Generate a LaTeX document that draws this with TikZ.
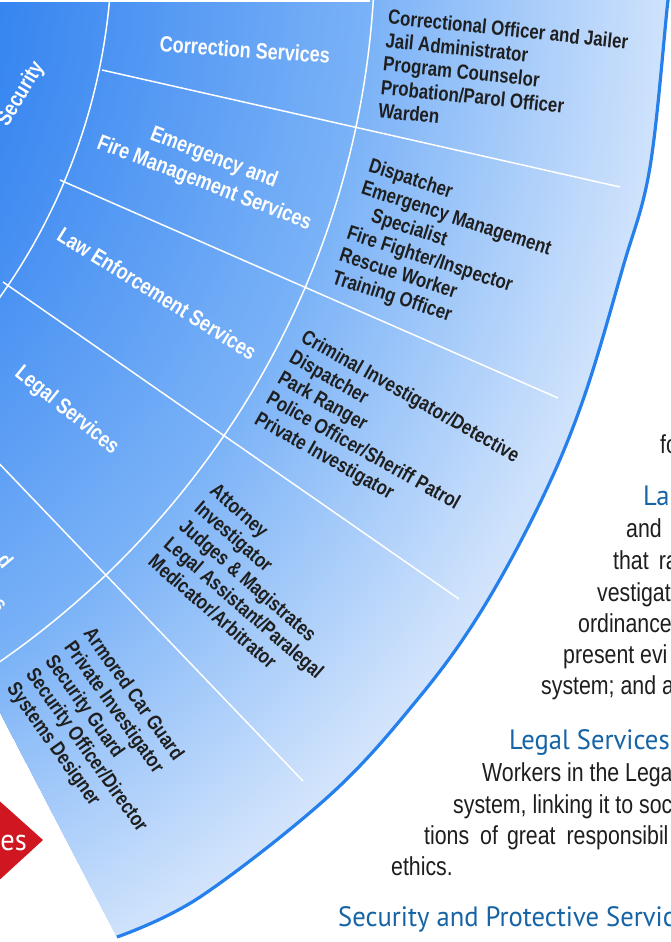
\documentclass[tikz,border=0pt]{standalone}
\usepackage{fontspec}
\setmainfont{Liberation Sans}
\newfontfamily\narrowfont{Liberation Sans}[FakeStretch=0.82]
\newfontfamily\headfont{PT Sans}[FakeStretch=0.95]
\definecolor{ringA}{RGB}{50,130,240}
\definecolor{ringB}{RGB}{122,178,247}
\definecolor{ringC}{RGB}{210,228,252}
\definecolor{arcblue}{RGB}{38,128,235}
\definecolor{headblue}{RGB}{22,100,165}
\definecolor{bodytext}{RGB}{30,30,30}
\definecolor{tagred}{RGB}{208,22,32}
\begin{document}
\begin{tikzpicture}[x=1pt,y=-1pt,
  sector/.style={font=\narrowfont\bfseries\fontsize{22}{27}\selectfont, text=white, inner sep=0pt, align=center},
  jobs/.style={font=\narrowfont\bfseries\fontsize{20.5}{23.5}\selectfont, text=black!88, inner sep=0pt, align=left, anchor=north west},
  body/.style={font=\narrowfont\fontsize{26}{31}\selectfont, text=bodytext, inner sep=0pt, anchor=base west},
  head/.style={font=\headfont\fontsize{28}{32}\selectfont, text=headblue, inner sep=0pt, anchor=base west},
  divider/.style={white, line width=1.5pt},
  outerline/.style={arcblue, line width=3.2pt}]
\useasboundingbox (0,0) rectangle (670,942);
\clip (0,0) rectangle (670,942);
\fill[white] (0,0) rectangle (670,942);
\coordinate (O) at (-497,-55);
% fan with radial gradient
\begin{scope}
  \clip (-20,-20) -- (671,-20) -- plot[smooth, tension=0.6] coordinates {(671,-12) (668,0) (650,167) (623,267) (583,400) (540,503) (480,613) (417,700) (330,795) (200,897) (117,937)} -- (0,712) -- (-20,673) -- cycle;
  \foreach \r in {1200,1195,...,470}{
    \ifdim\r pt>870pt
      \pgfmathsetmacro\p{min(100,max(0,(1180-\r)/310*100))}
      \colorlet{ringtmp}{ringB!\p!ringC}
    \else
      \pgfmathsetmacro\p{min(100,(870-\r)/390*100)}
      \colorlet{ringtmp}{ringA!\p!ringB}
    \fi
    \fill[ringtmp] (O) circle (\r);
  }
  \draw[divider] (O) circle (609);
  \draw[divider] (O) circle (872);
  \coordinate (l1a) at (102,70);  \coordinate (l1b) at (620,187);
  \coordinate (l2a) at (60,180);  \coordinate (l2b) at (558,398);
  \coordinate (l3a) at (3,282);   \coordinate (l3b) at (459,599);
  \coordinate (l4a) at (-76,385); \coordinate (l4b) at (303,781);
  \draw[divider] (l1a) -- (l1b);
  \draw[divider] (l2a) -- (l2b);
  \draw[divider] (l3a) -- (l3b);
  \draw[divider] (l4a) -- (l4b);
\end{scope}
\fill[white] (0,0) rectangle (370,2.5);
\draw[outerline] plot[smooth, tension=0.6] coordinates {(671,-12) (668,0) (650,167) (623,267) (583,400) (540,503) (480,613) (417,700) (330,795) (200,897) (117,937)};
% inner ring labels
\node[sector, rotate=-3.9, anchor=base] (corr) at (244.5,57.5) {Correction Services};
\node[sector, rotate=-21, anchor=center] (emerg) at (209,171) {Emergency and\\Fire Management Services};
\node[sector, rotate=-32, anchor=base] (law) at (153,300) {Law Enforcement Services};
\node[sector, rotate=-39, anchor=base] (legal) at (63,415) {Legal Services};
\node[sector, rotate=59, anchor=base] (secur) at (26,97) {Security};
\node[sector, rotate=-50, anchor=base east] (fragd) at (3,570) {d};
\node[sector, rotate=-50, anchor=base east] (frags) at (-2,613) {s};
% job lists
\node[jobs, rotate=-6] (jobs1) at (389,9) {Correctional Officer and Jailer\\Jail Administrator\\Program Counselor\\Probation/Parol Officer\\Warden};
\node[jobs, rotate=-18] (jobs2) at (372,157) {Dispatcher\\Emergency Management\\\hspace*{18pt}Specialist\\Fire Fighter/Inspector\\Rescue Worker\\Training Officer};
\node[jobs, rotate=-29.5] (jobs3) at (307,328) {Criminal Investigator/Detective\\Dispatcher\\Park Ranger\\Police Officer/Sheriff Patrol\\Private Investigator};
\node[jobs, rotate=-41] (jobs4) at (218,482) {Attorney\\Investigator\\Judges \& Magistrates\\Legal Assistant/Paralegal\\Medicator/Arbitrator};
\node[jobs, rotate=-54.5] (jobs5) at (95,625) {Armored Car Guard\\Private Investigator\\Security Guard\\Security Officer/Director\\Systems Designer};
% red tag
\fill[tagred] (-5,797) -- (43,840) -- (-5,884) -- cycle;
\node[font=\headfont\fontsize{30}{34}\selectfont, text=white, inner sep=0pt, anchor=base east] (tag) at (27,850) {es};
% right-hand text
\node[body] (t1) at (660,453) {fo};
\node[head] (h1) at (643,505) {La};
\node[body] (t2) at (626,537) {and};
\node[body] (t3) at (613,569) {that\hspace{10pt}ra};
\node[body] (t4) at (597,601) {vestigat};
\node[body] (t5) at (578,632) {ordinance};
\node[body] (t6) at (563,663) {present evi};
\node[body] (t7) at (541,694) {system; and a};
\node[head] (h2) at (509,749) {Legal Services};
\node[body] (t8) at (482,781) {Workers in the Lega};
\node[body] (t9) at (453,813) {system, linking it to soc};
\node[body] (t10) at (424,844) {tions\hspace{11pt}of\hspace{9pt}great\hspace{11pt}responsibil};
\node[body] (t11) at (391,875) {ethics.};
\node[head] (h3) at (338,926) {Security and Protective Servic};
\end{tikzpicture}
\end{document}
